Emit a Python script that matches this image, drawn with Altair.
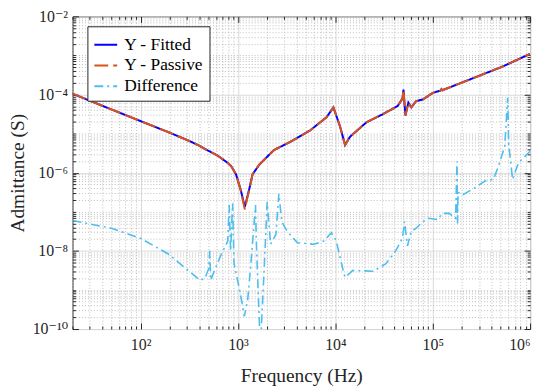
import altair as alt
import pandas as pd

# ---------------- data ----------------
fit_freq = [20, 31.6, 100, 200, 316, 389, 490, 617, 785, 851, 955, 1072, 1175, 1306,
            1413, 1660, 2344, 3467, 5495, 8128, 9550, 11220, 12590, 14130, 20890,
            30900, 43650, 48980, 50120, 52480, 56230, 60260, 67610, 79430, 100000,
            112200, 120200, 123000, 125900, 234400, 512900, 1000000]
fit_adm = [1.05e-4, 6.6e-5, 2.09e-5, 1.05e-5, 6.5e-6, 5.1e-6, 3.7e-6, 2.75e-6, 1.78e-6,
           1.48e-6, 9.1e-7, 3.5e-7, 1.33e-7, 3.8e-7, 9.1e-7, 1.62e-6, 3.8e-6, 6.2e-6,
           1.2e-5, 2.63e-5, 4.7e-5, 1.48e-5, 5.1e-6, 8.3e-6, 1.95e-5, 3.16e-5, 5.1e-5,
           7.9e-5, 1.33e-4, 2.9e-5, 6.2e-5, 4.7e-5, 6.8e-5, 7.5e-5, 1.1e-4, 1.2e-4,
           1.26e-4, 1.38e-4, 1.29e-4, 2.37e-4, 5.1e-4, 1.1e-3]

pas_freq = fit_freq
pas_adm = [1.05e-4, 6.6e-5, 2.09e-5, 1.05e-5, 6.5e-6, 5.1e-6, 3.7e-6, 2.75e-6, 1.78e-6,
           1.48e-6, 9.1e-7, 3.4e-7, 1.15e-7, 3.7e-7, 9.1e-7, 1.62e-6, 3.8e-6, 6.2e-6,
           1.2e-5, 2.63e-5, 4.7e-5, 1.48e-5, 5.1e-6, 8.3e-6, 1.95e-5, 3.16e-5, 5.1e-5,
           7.9e-5, 1.33e-4, 2.9e-5, 6.2e-5, 4.7e-5, 6.8e-5, 7.5e-5, 1.1e-4, 1.2e-4,
           1.26e-4, 1.38e-4, 1.29e-4, 2.37e-4, 5.1e-4, 1.1e-3]

diff_freq = [20, 50.1, 100, 192.8, 281.8, 407.4, 457.1, 501.2, 512.9, 524.8, 575.4,
             676.1, 785.2, 812.8, 841.4, 881.0, 912.0, 1023, 1096, 1161, 1259, 1349,
             1514, 1549, 1698, 1862, 1995, 2163, 2455, 2630, 2818, 3199, 4074, 6026,
             7586, 9120, 10230, 12020, 12590, 15140, 24550, 33110, 41690, 48980, 51290,
             54950, 60260, 67610, 79430, 91200, 112200, 125900, 147900, 171800, 177800,
             179900, 182000, 199500, 275400, 346700, 421700, 473200, 549500, 588800,
             602600, 660700, 758600, 1000000]
diff_adm = [5.96e-8, 3.8e-8, 2.09e-8, 8.3e-9, 3.8e-9, 1.78e-9, 1.95e-9, 3.55e-9, 1.0e-8,
            1.78e-9, 3.16e-9, 8.3e-9, 1.78e-8, 1.48e-7, 1.0e-8, 1.66e-7, 4.7e-9, 1.2e-9,
            5.0e-10, 2.1e-10, 5.6e-10, 3.8e-9, 1.48e-7, 1.35e-8, 3.2e-11, 3.8e-9, 1.78e-7,
            1.48e-8, 2.63e-8, 2.9e-7, 5.6e-8, 3.16e-8, 1.62e-8, 1.48e-8, 1.78e-8, 2.9e-8,
            1.78e-8, 3.16e-9, 2.1e-9, 3.16e-9, 3.0e-9, 4.7e-9, 1.0e-8, 2.14e-8, 5.6e-8,
            1.33e-8, 3.16e-8, 3.8e-8, 5.6e-8, 6.8e-8, 6.3e-8, 9.1e-8, 9.1e-8, 6.8e-8,
            1.95e-6, 5.0e-8, 3.16e-7, 2.63e-7, 4.2e-7, 6.2e-7, 6.8e-7, 1.48e-6, 4.7e-6,
            8.3e-5, 5.6e-6, 6.8e-7, 1.78e-6, 3.55e-6]

series_names = ["Y - Fitted", "Y - Passive", "Difference"]
series_colors = ["#0000FF", "#D95319", "#4DBEEE"]
series_dash = [[1, 0], [14, 5], [9, 4, 2, 4]]

x_ticks_major = [1e2, 1e3, 1e4, 1e5, 1e6]
y_ticks_major = [1e-10, 1e-8, 1e-6, 1e-4, 1e-2]
x_ticks_minor = [k * 10 ** n for n in range(1, 6) for k in range(2, 10) if k * 10 ** n >= 20]
y_ticks_minor = [k * 10.0 ** n for n in range(-10, -2) for k in range(1, 10)
                 if not (k == 1 and n % 2 == 0)]

# ---------------- build table ----------------
df = pd.concat([
    pd.DataFrame({"f": fit_freq, "Y": fit_adm, "series": series_names[0], "o": range(len(fit_freq))}),
    pd.DataFrame({"f": pas_freq, "Y": pas_adm, "series": series_names[1], "o": range(len(pas_freq))}),
    pd.DataFrame({"f": diff_freq, "Y": diff_adm, "series": series_names[2], "o": range(len(diff_freq))}),
])

FONT = "Liberation Serif"
TICKFONT = "Liberation Serif, DejaVu Serif"
INK = "#262626"
W, H = 461, 315
xscale = alt.Scale(type="log", domain=[20, 1e6], nice=False)
yscale = alt.Scale(type="log", domain=[1e-10, 1e-2], nice=False)

sup = "['⁰','¹','²','³','⁴','⁵','⁶','⁷','⁸','⁹']"
x_label_expr = "'10' + " + sup + "[round(log(datum.value)/LN10)]"
y_label_expr = ("'10⁻' + (round(-log(datum.value)/LN10) == 10 ? '¹⁰' : " + sup +
                "[round(-log(datum.value)/LN10)])")

legend = alt.Legend(title=None, labelFont=FONT, labelFontSize=17.5, labelColor="black")
color = alt.Color("series:N", scale=alt.Scale(domain=series_names, range=series_colors),
                  legend=legend)
dash = alt.StrokeDash("series:N", scale=alt.Scale(domain=series_names, range=series_dash),
                      legend=legend)

# axes
x_main = alt.Axis(orient="bottom", values=x_ticks_major, labelExpr=x_label_expr, grid=True,
                  gridColor="#DADADA", tickSize={"expr": "-6"}, tickColor=INK, labelPadding=14,
                  domain=False, labelFont=TICKFONT, labelFontSize=16, labelColor=INK,
                  labelBaseline="top", titleFont=FONT, titleFontSize=19.5, titleFontWeight="normal",
                  titleColor=INK, titleX=W / 2, titleY=47, titleBaseline="middle")
y_main = alt.Axis(orient="left", values=y_ticks_major, labelExpr=y_label_expr, grid=True,
                  gridColor="#DADADA", tickSize={"expr": "-6"}, tickColor=INK, labelPadding=11,
                  domain=False, labelFont=TICKFONT, labelFontSize=16, labelColor=INK,
                  titleFont=FONT, titleFontSize=19.5, titleFontWeight="normal",
                  titleColor=INK, titleX=-55, titleY=H / 2, titleBaseline="middle")
x_top = alt.Axis(orient="top", values=x_ticks_major, labels=False, grid=False, domain=False,
                 tickSize={"expr": "-6"}, tickColor=INK, title=None)
y_right = alt.Axis(orient="right", values=y_ticks_major, labels=False, grid=False, domain=False,
                   tickSize={"expr": "-6"}, tickColor=INK, title=None)
x_minor_b = alt.Axis(orient="bottom", values=x_ticks_minor, labels=False, grid=True,
                     gridColor="#BDBDBD", gridDash=[1, 2], domain=False,
                     tickSize={"expr": "-3"}, tickColor=INK, title=None)
y_minor_l = alt.Axis(orient="left", values=y_ticks_minor, labels=False, grid=True,
                     gridColor="#BDBDBD", gridDash=[1, 2], domain=False,
                     tickSize={"expr": "-3"}, tickColor=INK, title=None)
x_minor_t = alt.Axis(orient="top", values=x_ticks_minor, labels=False, grid=False, domain=False,
                     tickSize={"expr": "-3"}, tickColor=INK, title=None)
y_minor_r = alt.Axis(orient="right", values=y_ticks_minor, labels=False, grid=False, domain=False,
                     tickSize={"expr": "-3"}, tickColor=INK, title=None)

base = alt.Chart(df)

def line(name, xa, ya, width, xtitle=None, ytitle=None):
    xk = dict(scale=xscale, axis=xa)
    yk = dict(scale=yscale, axis=ya)
    if xtitle:
        xk["title"] = xtitle
    if ytitle:
        yk["title"] = ytitle
    return base.transform_filter(alt.datum.series == name).mark_line(
        clip=True, strokeWidth=width
    ).encode(
        x=alt.X("f:Q", **xk),
        y=alt.Y("Y:Q", **yk),
        color=color,
        strokeDash=dash,
        order="o:Q",
    )

l_fit = line("Y - Fitted", x_main, y_main, 2, "Frequency (Hz)", "Admittance (S)")
l_pas = line("Y - Passive", x_top, y_right, 2)
l_dif = line("Difference", x_minor_b, y_minor_l, 1.6)
l_hidden = base.transform_filter(alt.datum.series == "Difference").mark_line(
    clip=True, opacity=0
).encode(
    x=alt.X("f:Q", scale=xscale, axis=x_minor_t),
    y=alt.Y("Y:Q", scale=yscale, axis=y_minor_r),
    order="o:Q",
)

chart = alt.layer(l_hidden, l_fit, l_pas, l_dif).resolve_axis(
    x="independent", y="independent"
).properties(
    width=W, height=H,
    autosize=alt.AutoSizeParams(type="none"),
    padding={"left": 65, "top": 7, "right": 12, "bottom": 60},
).configure(
    font=FONT
).configure_view(
    stroke=INK, strokeWidth=1
).configure_legend(
    orient="none", legendX=15, legendY=10,
    strokeColor=INK, fillColor="white", padding=6,
    labelFont=FONT, labelFontSize=17.5, labelFontWeight="normal", labelColor="black",
    labelOffset=6, symbolType="stroke", symbolSize=529, symbolStrokeWidth=2, rowPadding=0,
    labelLimit=300,
)

chart.save("out.html", embed_options={"renderer": "svg", "actions": False})
